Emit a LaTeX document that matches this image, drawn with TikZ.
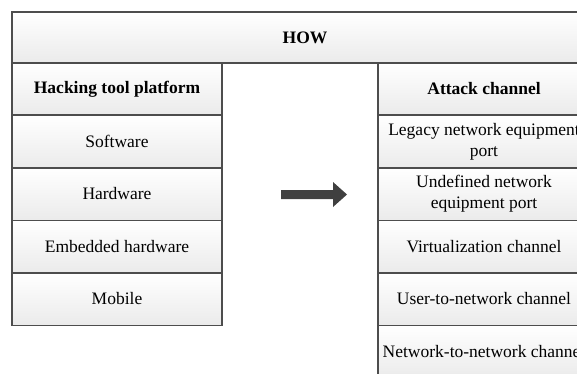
\documentclass[tikz,border=0pt]{standalone}
\usepackage{fontspec}
\setmainfont{Liberation Serif}
\definecolor{bordc}{HTML}{4D4D4D}
\definecolor{arrc}{HTML}{404040}
\begin{document}
\begin{tikzpicture}[x=1pt,y=-1pt,
  cell/.style={draw=bordc, line width=1.5pt, top color=white, bottom color=black!8,
    minimum height=52.5pt, inner sep=0pt, outer sep=0pt, align=center,
    font=\fontsize{17.5}{21}\selectfont},
  leftcell/.style={cell, minimum width=210pt},
  rightcell/.style={cell, minimum width=212pt},
  head/.style={font=\fontsize{17.5}{21}\selectfont\bfseries}]
\useasboundingbox (0,0) rectangle (577,373);
\clip (0,0) rectangle (577,373);
\node[cell, head, minimum width=586pt, minimum height=51pt] (how) at (305,37.5) {HOW};
\node[leftcell, head, minimum height=52pt] (ltitle) at (117,89) {Hacking tool platform};
\node[leftcell] (l1) at (117,141.5) {Software};
\node[leftcell] (l2) at (117,194) {Hardware};
\node[leftcell] (l3) at (117,246.5) {Embedded hardware};
\node[leftcell] (l4) at (117,299) {Mobile};
\node[rightcell, head, minimum height=52pt] (rtitle) at (484,89) {Attack channel};
\node[rightcell] (r1) at (484,141.5) {Legacy network equipment\\port};
\node[rightcell] (r2) at (484,194) {Undefined network\\equipment port};
\node[rightcell] (r3) at (484,246.5) {Virtualization channel};
\node[rightcell] (r4) at (484,299) {User-to-network channel};
\node[rightcell] (r5) at (484,351.5) {Network-to-network channel};
\fill[arrc] (281,190) -- (333,190) -- (333,182) -- (347,194.5) -- (333,207) -- (333,199) -- (281,199) -- cycle;
\end{tikzpicture}
\end{document}
